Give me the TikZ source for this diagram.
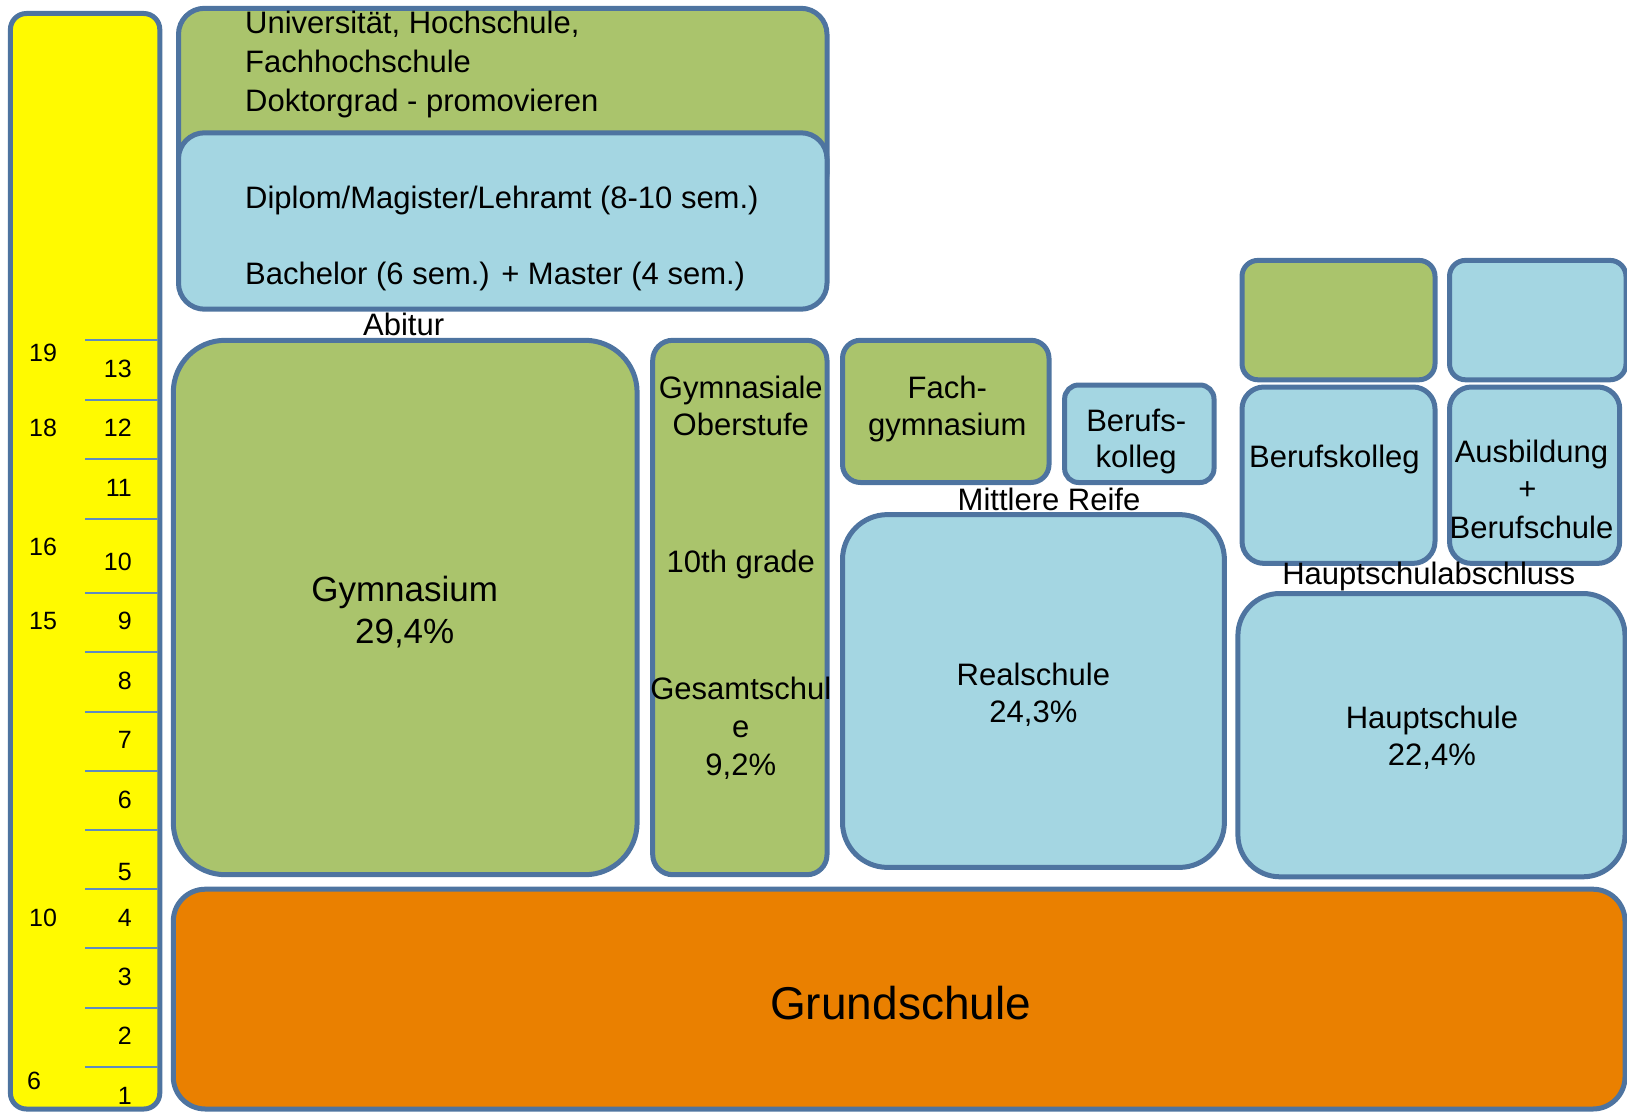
\documentclass[tikz,border=0pt]{standalone}
\usepackage{fontspec}
\setmainfont{Liberation Sans}
\definecolor{bordc}{RGB}{78,116,160}
\definecolor{tickc}{RGB}{95,140,190}
\definecolor{grn}{RGB}{170,196,108}
\definecolor{lblue}{RGB}{164,214,226}
\definecolor{orng}{RGB}{234,128,0}
\definecolor{yel}{RGB}{255,250,0}
\newcommand\szstd{\fontsize{31}{38}\selectfont}
\newcommand\szmid{\fontsize{35}{42}\selectfont}
\newcommand\szbig{\fontsize{46}{55}\selectfont}
\newcommand\szdig{\fontsize{25}{30}\selectfont}
\tikzset{
  boxst/.style={draw=bordc, line width=5pt, rounded corners=#1, inner sep=0pt, outer sep=0pt, anchor=north west},
  boxst/.default=20pt,
  lbl/.style={inner sep=0pt, anchor=base, font=\szstd},
  lbll/.style={inner sep=0pt, anchor=base west, font=\szstd},
  digr/.style={inner sep=0pt, anchor=base east, font=\szdig},
  digl/.style={inner sep=0pt, anchor=base west, font=\szdig},
  tickln/.style={draw=tickc, line width=2pt}
}
\begin{document}
\begin{tikzpicture}[x=1pt,y=-1pt]
\useasboundingbox (0,0) rectangle (1627,1113);
% yellow bar
\node[boxst=16pt, fill=yel, minimum width=149.4pt, minimum height=1095.5pt] (bar) at (10.4,13.5) {};
% ticks
\foreach \yy [count=\i] in {340.3,399.5,458.6,518.8,592.5,651.6,711.8,770.9,830.1,889.2,948.4,1007.5,1066.6}{
  \coordinate (tl\i) at (85,\yy);
  \coordinate (tr\i) at (158,\yy);
  \draw[tickln] (tl\i) -- (tr\i);
}
% grade numbers
\foreach \g/\yy in {13/368.3,12/427.5,11/487.7,10/561.3,9/620.5,8/680.7,7/739.8,6/799,5/871.6,4/917.3,3/976.4,2/1035.5,1/1095.7}{
  \node[digr] (g\g) at (132,\yy+9) {\g};
}
% ages
\foreach \a/\yy in {19/352.8,18/427.5,16/546.8,15/620.5,10/917.3}{
  \node[digl] (a\a) at (29,\yy+9) {\a};
}
\node[digl] (a6) at (27,1089) {6};
% university
\node[boxst=26pt, fill=grn, minimum width=648.5pt, minimum height=191.7pt] (uni) at (178.5,8.3) {};
\node[boxst=26pt, fill=lblue, minimum width=648.5pt, minimum height=176.4pt] (deg) at (178.5,132.8) {};
\node[lbll] (t1) at (245,33.8) {Universität, Hochschule,};
\node[lbll] (t2) at (245,72.2) {Fachhochschule};
\node[lbll] (t3) at (245,111.6) {Doktorgrad - promovieren};
\node[lbll] (t4) at (245,208.1) {Diplom/Magister/Lehramt (8-10 sem.)};
\node[lbll] (t5) at (245,284.9) {Bachelor (6 sem.) + Master (4 sem.)};
\node[lbl] (abi) at (403.6,335.8) {Abitur};
% Gymnasium
\node[boxst=52pt, fill=grn, minimum width=463.8pt, minimum height=534.4pt] (gym) at (173.3,340.3) {};
\node[lbl, font=\szmid] (gymt) at (404.7,601.9) {Gymnasium};
\node[lbl, font=\szmid] (gymp) at (404.7,643.4) {29,4\%};
% Gesamtschule
\node[boxst=20pt, fill=grn, minimum width=174.3pt, minimum height=534.4pt] (ges) at (652.7,340.3) {};
\node[lbl] (ges1) at (740.8,398) {Gymnasiale};
\node[lbl] (ges2) at (740.8,435.4) {Oberstufe};
\node[lbl] (ges3) at (740.8,572.3) {10th grade};
\node[lbl] (ges4) at (740.8,699) {Gesamtschul};
\node[lbl] (ges5) at (740.8,737) {e};
\node[lbl] (ges6) at (740.8,775.7) {9,2\%};
% Fachgymnasium
\node[boxst=18pt, fill=grn, minimum width=206.5pt, minimum height=142.2pt] (fach) at (842.5,340.3) {};
\node[lbl] (fach1) at (947.3,398) {Fach-};
\node[lbl] (fach2) at (947.3,435.4) {gymnasium};
% Berufskolleg small
\node[boxst=14pt, fill=lblue, minimum width=149.4pt, minimum height=97.5pt] (bk1) at (1064.6,385) {};
\node[lbl] (bk1a) at (1136.2,431.2) {Berufs-};
\node[lbl] (bk1b) at (1136.2,467.5) {kolleg};
\node[lbl] (mr) at (1049,510.1) {Mittlere Reife};
% Realschule
\node[boxst=45pt, fill=lblue, minimum width=381.9pt, minimum height=352.8pt] (real) at (842.5,514.6) {};
\node[lbl] (real1) at (1033.4,685.4) {Realschule};
\node[lbl] (real2) at (1033.4,722.8) {24,3\%};
% right column
\node[boxst=16pt, fill=grn, minimum width=193pt, minimum height=119.4pt] (tg) at (1242,260.4) {};
\node[boxst=16pt, fill=lblue, minimum width=176.5pt, minimum height=119.4pt] (tb) at (1449.5,260.4) {};
\node[boxst=22pt, fill=lblue, minimum width=193pt, minimum height=176.4pt] (bk2) at (1242,387) {};
\node[lbl] (bk2t) at (1334.4,467.5) {Berufskolleg};
\node[boxst=22pt, fill=lblue, minimum width=170.2pt, minimum height=176.4pt] (ausb) at (1449.5,387) {};
\node[lbl] (au1) at (1531.5,462.4) {Ausbildung};
\node[lbl] (au2) at (1527.4,499.5) {+};
\node[lbl] (au3) at (1531.5,538.1) {Berufschule};
\node[lbl] (hsa) at (1428.8,584.8) {Hauptschulabschluss};
\node[boxst=42pt, fill=lblue, minimum width=387.1pt, minimum height=283.3pt] (haupt) at (1237.9,593.5) {};
\node[lbl] (hs1) at (1431.9,728) {Hauptschule};
\node[lbl] (hs2) at (1431.9,765.3) {22,4\%};
% Grundschule
\node[boxst=32pt, fill=orng, minimum width=1451.7pt, minimum height=219.8pt] (grund) at (173.3,889.2) {};
\node[lbl, font=\szbig] (gs) at (900.6,1019.9) {Grundschule};
\end{tikzpicture}
\end{document}
